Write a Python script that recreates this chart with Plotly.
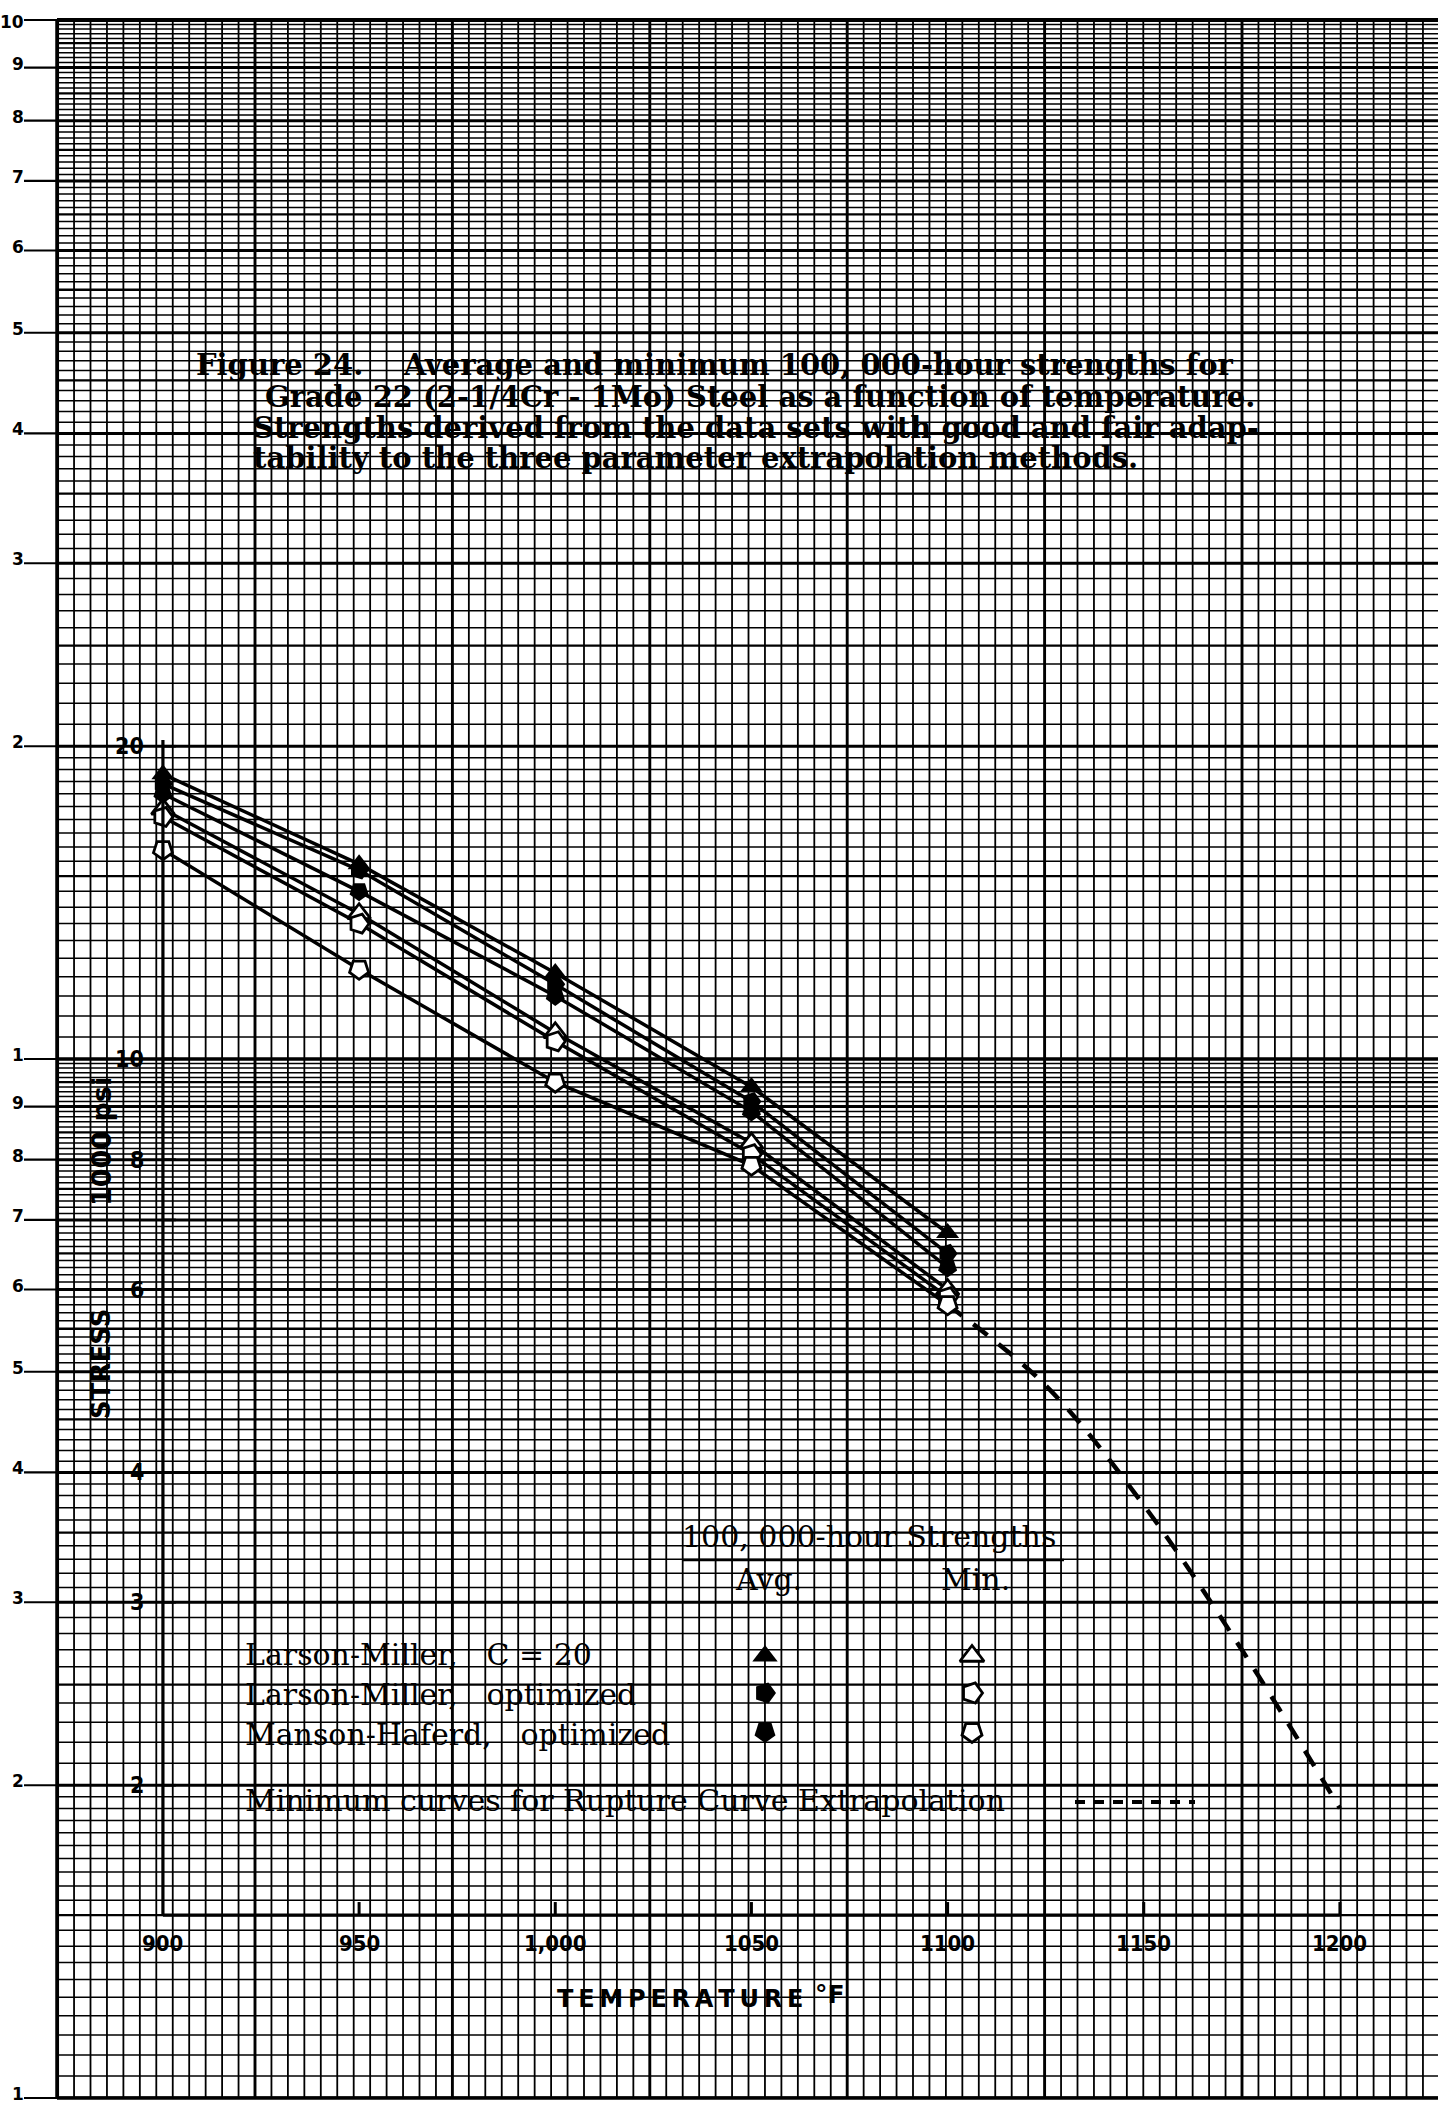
import math
import plotly.graph_objects as go

# ---------------- canvas / paper geometry ----------------
W, H = 1438, 2111
ML, MT, MR, MB = 57, 20, 0, 13
PW, PH = W - ML - MR, H - MT - MB

def fx(px):
    return (px - ML) / PW

def fy(py):
    return (H - MB - py) / PH

def ly(v):
    return math.log10(v) / 2.0

# ---------------- data (1000 psi) ----------------
temps = [900, 950, 1000, 1050, 1100]
lm20_avg = [18.8, 15.4, 12.1, 9.4, 6.8]
lmopt_avg = [18.4, 15.2, 11.8, 9.1, 6.5]
mhopt_avg = [18.0, 14.5, 11.5, 8.9, 6.3]
lm20_min = [17.4, 13.8, 10.6, 8.3, 6.0]
lmopt_min = [17.1, 13.5, 10.4, 8.1, 5.9]
mhopt_min = [15.9, 12.2, 9.5, 7.9, 5.8]

extrap_temps = [1100, 1125, 1150, 1175, 1200]
extrap_stress = [5.8, 4.85, 3.72, 2.7, 1.9]

x_tick_vals = [900, 950, 1000, 1050, 1100, 1150, 1200]
x_tick_text = ["900", "950", "1,000", "1050", "1100", "1150", "1200"]
y_tick_vals = [20, 10, 9, 8, 7, 6, 5, 4, 3, 2]
y_label_vals = [20, 10, 8, 6, 4, 3, 2]
y_label_text = ["20", "10", "8", "6", "4", "3", "2"]

paper_top_labels = ["10", "9", "8", "7", "6", "5", "4", "3", "2", "1"]
paper_top_vals = [100, 90, 80, 70, 60, 50, 40, 30, 20, 10]
paper_bot_labels = ["9", "8", "7", "6", "5", "4", "3", "2", "1"]
paper_bot_vals = [9, 8, 7, 6, 5, 4, 3, 2, 1]

XMIN, XMAX = 873, 1225

fig = go.Figure()

# ---------------- graph paper grid (pixel x, log y) ----------------
fine_x, fine_y, med_x, med_y, hv_x, hv_y = [], [], [], [], [], []
hf_x, hf_y = [], []
x0g, dxg = 57.6, 197.4 / 12
k = 0
while x0g + dxg * k <= W + 1:
    px = x0g + dxg * k
    if k % 12 == 0:
        hv_x += [px, px, None]; hv_y += [1, 100, None]
    else:
        fine_x += [px, px, None]; fine_y += [1, 100, None]
    k += 1
for mult in (1, 10):
    kk = 20
    while kk <= 200:
        v = kk * 0.05 * mult
        if kk % 20 == 0:
            hv_x += [ML, W, None]; hv_y += [v, v, None]
        elif kk % 10 == 0:
            med_x += [ML, W, None]; med_y += [v, v, None]
        else:
            hf_x += [ML, W, None]; hf_y += [v, v, None]
        kk += 1 if kk < 40 else 2

fig.add_trace(go.Scatter(x=fine_x, y=fine_y, mode="lines", xaxis="x", yaxis="y",
                         line=dict(color="black", width=1.8), hoverinfo="skip", showlegend=False))
fig.add_trace(go.Scatter(x=hf_x, y=hf_y, mode="lines", xaxis="x", yaxis="y",
                         line=dict(color="black", width=1.5), hoverinfo="skip", showlegend=False))
fig.add_trace(go.Scatter(x=med_x, y=med_y, mode="lines", xaxis="x", yaxis="y",
                         line=dict(color="black", width=2.3), hoverinfo="skip", showlegend=False))
fig.add_trace(go.Scatter(x=hv_x, y=hv_y, mode="lines", xaxis="x", yaxis="y",
                         line=dict(color="black", width=2.9), hoverinfo="skip", showlegend=False))

# ---------------- data curves ----------------
series = [
    (lm20_avg, "triangle-up", 0, True),
    (lmopt_avg, "pentagon", 90, True),
    (mhopt_avg, "pentagon", 180, True),
    (lm20_min, "triangle-up", 0, False),
    (lmopt_min, "pentagon", 90, False),
    (mhopt_min, "pentagon", 180, False),
]
for vals, sym, ang, filled in series:
    fig.add_trace(go.Scatter(x=temps, y=vals, mode="lines", xaxis="x2", yaxis="y",
                             line=dict(color="black", width=3.5), hoverinfo="skip", showlegend=False))
fig.add_trace(go.Scatter(x=extrap_temps, y=extrap_stress, mode="lines", xaxis="x2", yaxis="y",
                         line=dict(color="black", width=4.5, dash="18px,14px", shape="spline"),
                         hoverinfo="skip", showlegend=False))
for vals, sym, ang, filled in series:
    fig.add_trace(go.Scatter(
        x=temps, y=vals, mode="markers", xaxis="x2", yaxis="y",
        marker=dict(symbol=sym, angle=ang, size=20,
                    color="black" if filled else "white",
                    line=dict(color="black", width=0 if filled else 2.8)),
        hoverinfo="skip", showlegend=False))

# ---------------- legend keys (pixel axes) ----------------
key_rows_y = [1656, 1693, 1732]
for (vals, sym, ang, filled), ry in zip(series[:3], key_rows_y):
    fig.add_trace(go.Scatter(x=[765], y=[ry], mode="markers", xaxis="x", yaxis="y2",
                             marker=dict(symbol=sym, angle=ang, size=22, color="black"),
                             hoverinfo="skip", showlegend=False))
for (vals, sym, ang, filled), ry in zip(series[3:], key_rows_y):
    fig.add_trace(go.Scatter(x=[972], y=[ry], mode="markers", xaxis="x", yaxis="y2",
                             marker=dict(symbol=sym, angle=ang, size=21, color="white",
                                         line=dict(color="black", width=2.8)),
                             hoverinfo="skip", showlegend=False))

# ---------------- shapes ----------------
shapes = []

def seg(x0, y0, x1, y1, xref="paper", yref="paper", width=2.5, dash="solid"):
    shapes.append(dict(type="line", x0=x0, y0=y0, x1=x1, y1=y1, xref=xref, yref=yref,
                       line=dict(color="black", width=width, dash=dash), layer="above"))

seg(0, 1, 1, 1, width=4)
seg(0, 0, 1, 0, width=3.5)
seg(0, 0, 0, 1, width=3.5)

for v in paper_top_vals + paper_bot_vals:
    seg(fx(24), ly(v), 0, ly(v), width=2.2)

xa_y = ly(1.5)
seg(900, xa_y, 1200, xa_y, xref="x2", width=3.2)
seg(900, xa_y, 900, fy(740), xref="x2", width=3.2)
for t in x_tick_vals[1:]:
    seg(t, xa_y, t, xa_y + 13 / PH, xref="x2", width=3)
for v in y_tick_vals:
    seg(900, ly(v), 900 + 13 / 3.923, ly(v), xref="x2", width=2.6)

seg(fx(683), fy(1560), fx(1064), fy(1560), width=2.6)
seg(fx(1075), fy(1802), fx(1195), fy(1802), width=4, dash="10px,9px")

# ---------------- annotations ----------------
ann = []
SERIF = "DejaVu Serif, Liberation Serif, serif"
SANS = "DejaVu Sans, Liberation Sans, sans-serif"
COND = "DejaVu Sans Condensed, Liberation Sans Narrow, DejaVu Sans, sans-serif"

def txt(s, x, y, size, family, xanchor="left", yanchor="middle", bold=False, angle=0,
        xref="paper", yref="paper"):
    ann.append(dict(text=s, x=x, y=y, xref=xref, yref=yref, xanchor=xanchor, yanchor=yanchor,
                    showarrow=False, textangle=angle, borderpad=0,
                    font=dict(size=size, family=family, color="black",
                              weight="bold" if bold else "normal")))

for lab, v in zip(paper_top_labels + paper_bot_labels, paper_top_vals + paper_bot_vals):
    yy = ly(v) + 4 / PH
    if v == 100:
        yy = ly(v) - 2 / PH
    txt(lab, fx(25), yy, 17, SANS, xanchor="right", bold=True)

NB = "\u00a0"
title_lines = [
    ("Figure 24." + NB * 4 + "Average and minimum 100, 000-hour strengths for", 195, 365),
    ("Grade 22 (2-1/4Cr - 1Mo) Steel as a function of temperature.", 264, 397),
    ("Strengths derived from the data sets with good and fair adap-", 252, 428),
    ("tability to the three parameter extrapolation methods.", 252, 458),
]
for s, px, py in title_lines:
    txt(s, fx(px), fy(py), 29, SERIF, bold=True)

for lab, v in zip(y_label_text, y_label_vals):
    txt(lab, fx(145), ly(v), 23, COND, xanchor="right", bold=True)
for lab, t in zip(x_tick_text, x_tick_vals):
    txt(lab, t, fy(1943), 22, COND, xanchor="center", bold=True, xref="x2")

txt("STRESS", fx(101), fy(1364), 26, SANS, xanchor="center", bold=True, angle=-90)
txt("1000" + NB + "psi", fx(101), fy(1142), 27, SANS, xanchor="center", bold=True, angle=-90)
txt("\u2009".join("TEMPERATURE"), fx(556), fy(1999), 24, SANS, bold=True)
txt("\u00b0F", fx(814), fy(1994), 25, SANS, bold=True)

txt("100, 000-hour Strengths", fx(681), fy(1537), 30, SERIF)
txt("Avg.", fx(768), fy(1579), 30, SERIF, xanchor="center")
txt("Min.", fx(975), fy(1579), 30, SERIF, xanchor="center")
txt("Larson-Miller," + NB * 3 + "C = 20", fx(244), fy(1654), 30, SERIF)
txt("Larson-Miller," + NB * 3 + "optimized", fx(244), fy(1694), 30, SERIF)
txt("Manson-Haferd," + NB * 3 + "optimized", fx(244), fy(1734), 30, SERIF)
txt("Minimum curves for Rupture Curve Extrapolation", fx(244), fy(1800), 30, SERIF)

fig.update_layout(
    width=W, height=H,
    margin=dict(l=ML, r=MR, t=MT, b=MB, pad=0),
    paper_bgcolor="white", plot_bgcolor="white",
    showlegend=False,
    xaxis=dict(range=[ML, W], visible=False, fixedrange=True),
    yaxis=dict(type="log", range=[0, 2], visible=False, fixedrange=True),
    xaxis2=dict(range=[XMIN, XMAX], overlaying="x", anchor="y", visible=False, fixedrange=True),
    yaxis2=dict(range=[H - MB, MT], overlaying="y", anchor="x", visible=False, fixedrange=True),
    shapes=shapes,
    annotations=ann,
)

fig.write_html("out.html", config={"displayModeBar": False},
               post_script="document.body.style.margin='0';")
